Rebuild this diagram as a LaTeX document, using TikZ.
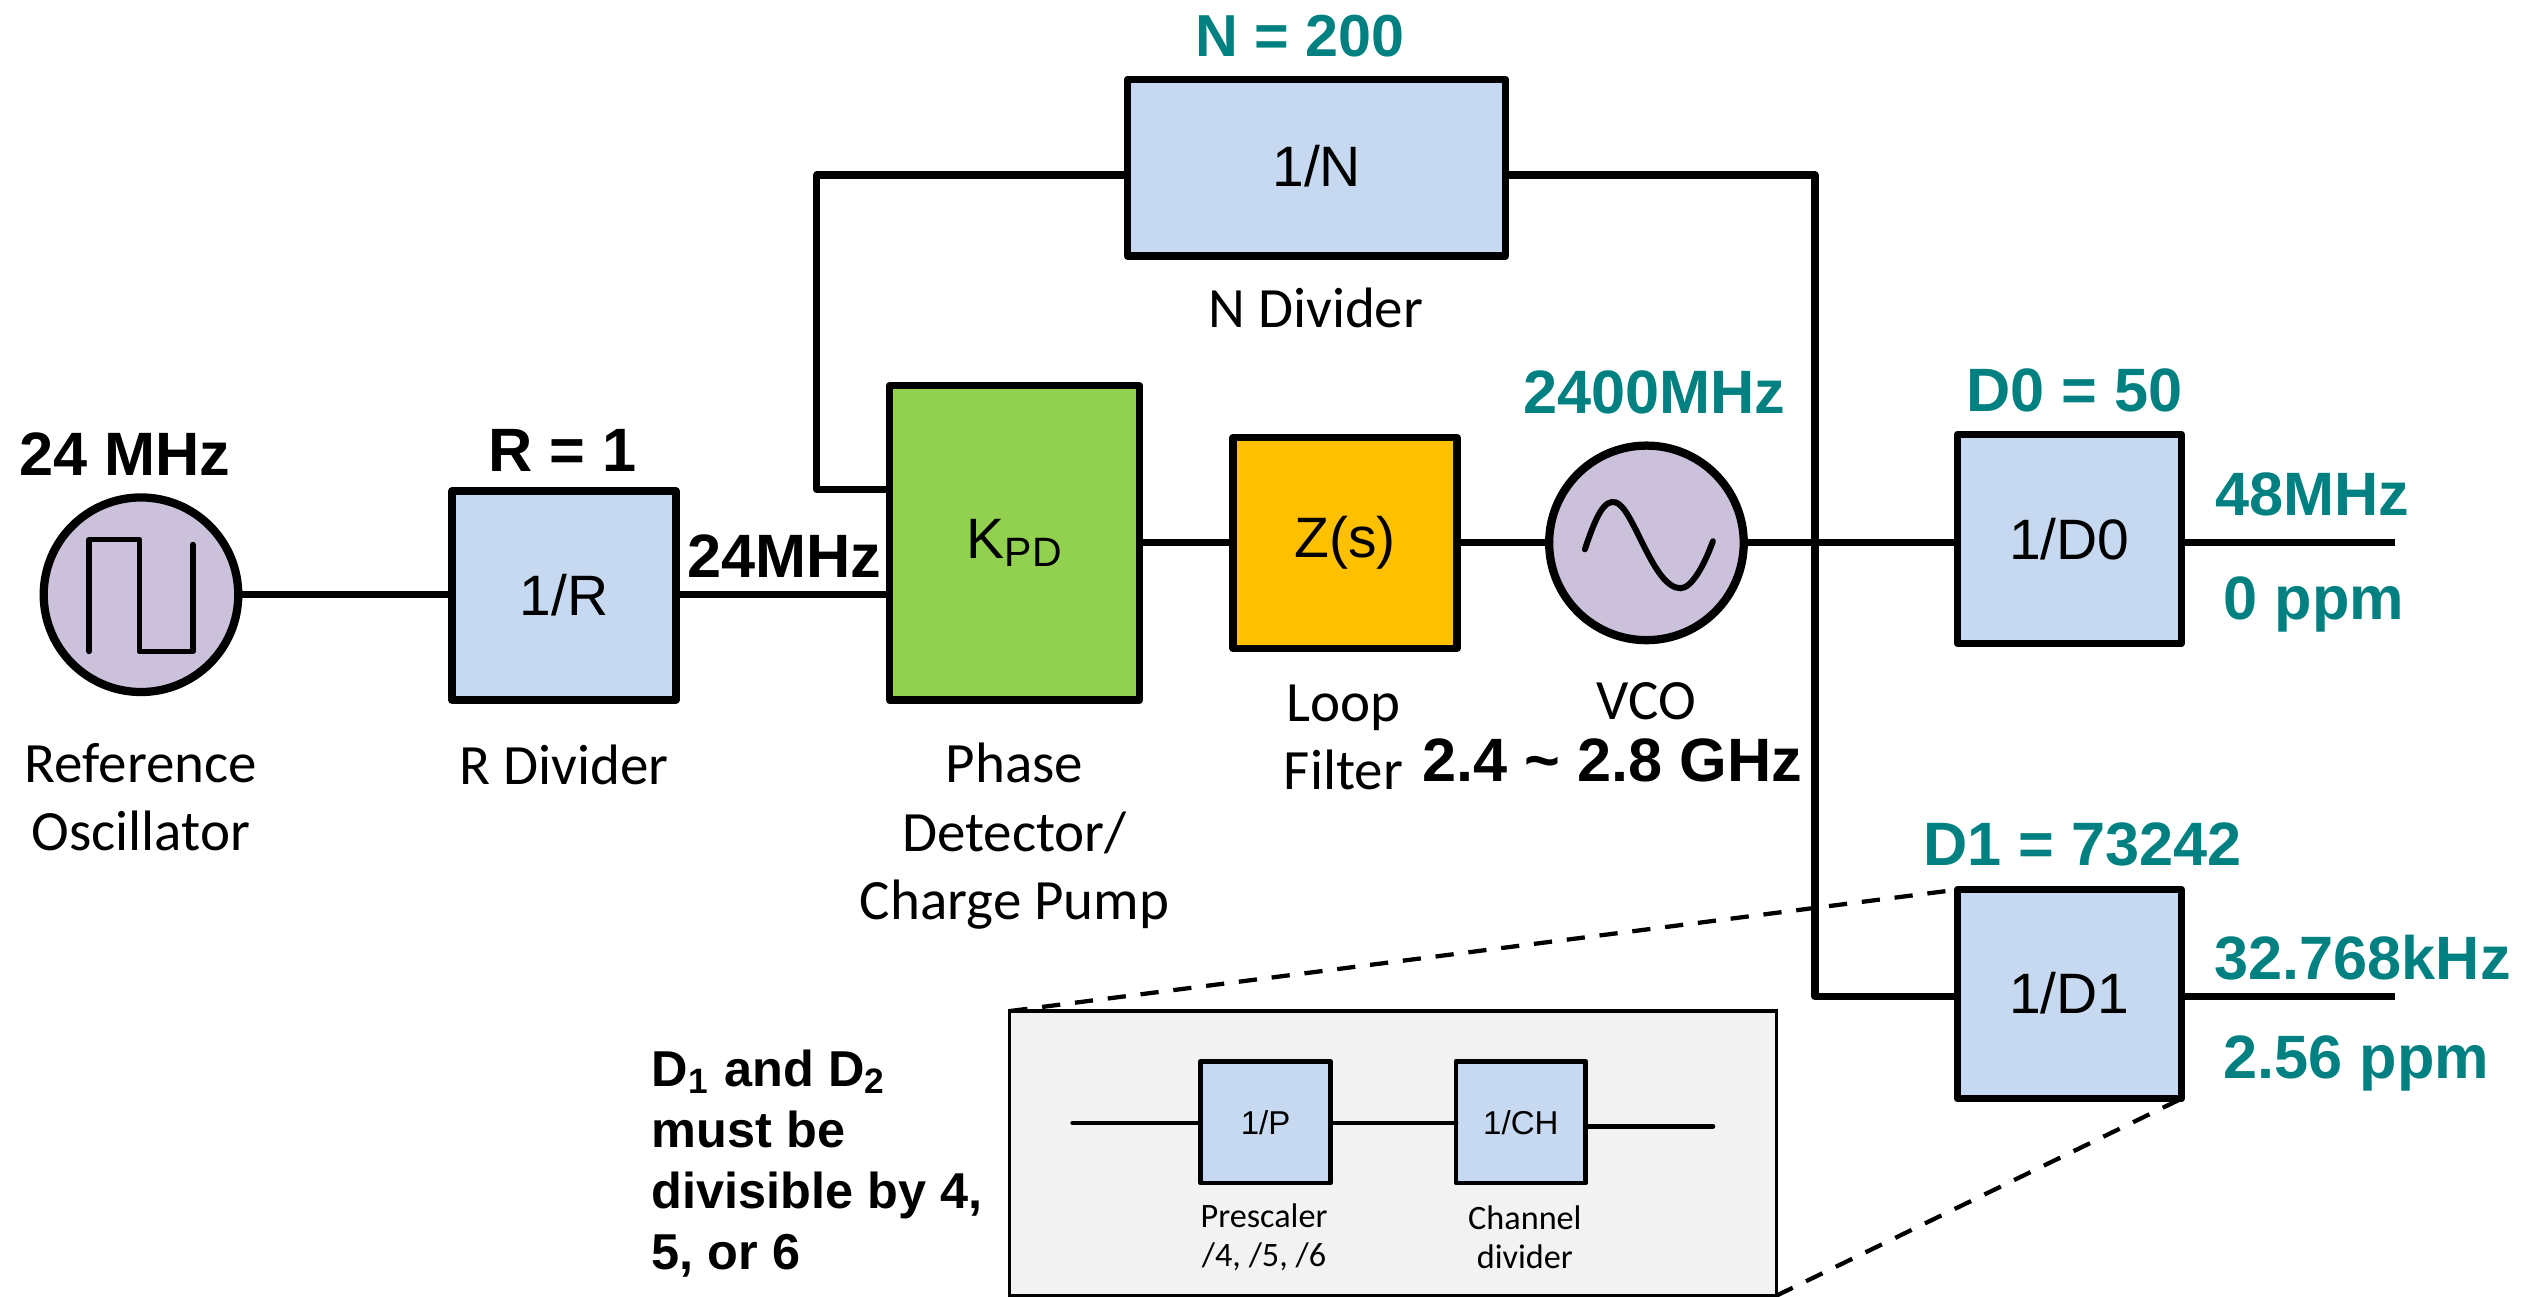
\documentclass[tikz,border=0pt]{standalone}
\usepackage{fontspec}
\setmainfont{Liberation Sans}
\newfontfamily\capfont{Carlito}
\definecolor{bluefill}{HTML}{C6D9F0}
\definecolor{lilac}{HTML}{CCC1DA}
\definecolor{kgreen}{HTML}{92D050}
\definecolor{zorange}{HTML}{FFC000}
\definecolor{panel}{HTML}{F2F2F2}
\definecolor{teal2}{HTML}{008080}
\tikzset{
  wire/.style={line width=1.25pt,line join=round,line cap=butt},
  thinwire/.style={line width=0.85pt,line cap=round},
  block/.style={draw,line width=1.3pt,line join=round,outer sep=0pt,inner sep=0pt,fill=bluefill,
    font=\fontsize{10pt}{12pt}\selectfont},
  small block/.style={draw,line width=0.85pt,line join=round,outer sep=0pt,inner sep=0pt,fill=bluefill,
    minimum width=0.80cm,minimum height=0.75cm,font=\fontsize{5.8pt}{7pt}\selectfont},
  osc/.style={circle,draw,line width=1.45pt,fill=lilac,minimum size=1.2cm,outer sep=0pt,inner sep=0pt},
  caption/.style={inner sep=0pt,align=center,font=\capfont\fontsize{10pt}{11.95pt}\selectfont},
  small caption/.style={inner sep=0pt,align=center,font=\capfont\fontsize{6pt}{6.83pt}\selectfont},
  boldlabel/.style={inner sep=0pt,font=\bfseries\fontsize{10.75pt}{13pt}\selectfont},
  tealabel/.style={boldlabel,text=teal2},
  note/.style={inner sep=0pt,align=left,anchor=west,font=\bfseries\fontsize{8.85pt}{10.67pt}\selectfont},
  dash line/.style={line width=0.75pt,dash pattern=on 3.2pt off 2.6pt}
}
\begin{document}
\begin{tikzpicture}[x=0.01cm,y=-0.01cm]
\useasboundingbox (0,0) rectangle (1568,799.75);
% blocks
\node[osc] (ref) at (87,367) {};
\node[block,minimum width=1.38cm,minimum height=1.29cm] (rdiv) at (348,367.5) {1/R};
\node[block,fill=kgreen,minimum width=1.54cm,minimum height=1.94cm] (kpd) at (626,335) {\raisebox{0.5pt}{K\raisebox{-0.25ex}{\fontsize{7.2pt}{9pt}\selectfont PD}}};
\node[block,fill=zorange,minimum width=1.38cm,minimum height=1.30cm] (zs) at (830,335) {Z(s)};
\node[osc] (vco) at (1016,335) {};
\node[block,minimum width=2.33cm,minimum height=1.09cm] (ndiv) at (812.5,103.5) {\raisebox{0.5pt}{1/N}};
\node[block,minimum width=1.38cm,minimum height=1.29cm] (d0) at (1277,332.5) {1/D0};
\node[block,minimum width=1.38cm,minimum height=1.29cm] (d1) at (1277,613.5) {\raisebox{0.5pt}{1/D1}};
\node[draw,fill=panel,line width=0.6pt,outer sep=0pt,inner sep=0pt,minimum width=4.73cm,minimum height=1.755cm] (panelbox) at (859.5,711.75) {};
% glyphs in the oscillators
\draw[line width=0.95pt,line cap=round,line join=round] (55,402) -- (55,333) -- (86,333) -- (86,402) -- (119,402) -- (119,336);
\draw[line width=1.05pt,line cap=round] (978,339) .. controls (985,318) and (990,308) .. (997,310) .. controls (1008,313) and (1020,363) .. (1037,363) .. controls (1044,363) and (1052,348) .. (1057,334);
% free ends
\coordinate (bus) at (1120,335);
\coordinate (fb) at (504,302);
\coordinate (out0) at (1478,335);
\coordinate (out1) at (1478,615);
\coordinate (ny) at (0,108);
% connectors
\draw[wire] (ref) -- (ref -| rdiv.west);
\draw[wire] (rdiv.east |- ref) -- (ref -| kpd.west);
\draw[wire] (kpd.east) -- (zs.west);
\draw[wire] (zs.east) -- (vco.west);
\draw[wire] (vco.east) -- (vco -| d0.west);
\draw[wire] (vco -| d0.east) -- (out0);
\draw[wire] (ndiv.west |- ny) -- (fb |- ny) -- (fb) -- (fb -| kpd.west);
\draw[wire] (ndiv.east |- ny) -- (bus |- ny) -- (bus |- out1) -- (out1 -| d1.west);
\draw[wire] (out1 -| d1.east) -- (out1);
\draw[dash line] (panelbox.north west) -- (d1.north west);
\draw[dash line] (panelbox.south east) -- (d1.south east);
% inset
\node[small block] (pre) at (781,692.5) {1/P};
\node[small block] (chan) at (938.5,692.5) {1/CH};
\coordinate (inL) at (662,693);
\coordinate (inR) at (1057,695);
\draw[thinwire] (inL) -- (inL -| pre.west);
\draw[thinwire] (inL -| pre.east) -- (inL -| chan.west);
\draw[thinwire] (inR -| chan.east) -- (inR);
% captions
\node[caption] (c1) at (87,492) {Reference\\Oscillator};
\node[caption] (c2) at (348,472) {R Divider};
\node[caption] (c3) at (626,516) {Phase\\Detector/\\Charge Pump};
\node[caption] (c4) at (829,455) {Loop\\Filter};
\node[caption] (c5) at (1016,433) {VCO};
\node[caption] (c6) at (812,190) {N Divider};
\node[small caption] (c7) at (780,763.5) {Prescaler\\/4, /5, /6};
\node[small caption] (c8) at (941,763.5) {Channel\\divider};
% bold labels
\node[boldlabel] (l1) at (77,280) {24 MHz};
\node[boldlabel] (l2) at (347,278) {R = 1};
\node[boldlabel] (l3) at (484,343) {24MHz};
\node[boldlabel] (l4) at (995,469) {2.4 \textasciitilde{} 2.8 GHz};
\node[tealabel,font=\bfseries\fontsize{10.4pt}{13pt}\selectfont] (t1) at (802,22) {N = 200};
\node[tealabel] (t2) at (1021,242) {2400MHz};
\node[tealabel] (t3) at (1280,241) {D0 = 50};
\node[tealabel] (t4) at (1427,305) {48MHz};
\node[tealabel] (t5) at (1428,373) {0 ppm};
\node[tealabel] (t6) at (1285,521) {D1 = 73242};
\node[tealabel] (t7) at (1458,591) {32.768kHz};
\node[tealabel] (t8) at (1454,656) {2.56 ppm};
\node[note] (n1) at (401.5,718) {D\textsubscript{1} and D\textsubscript{2}\\must be\\divisible by 4,\\5, or 6};
\end{tikzpicture}
\end{document}
